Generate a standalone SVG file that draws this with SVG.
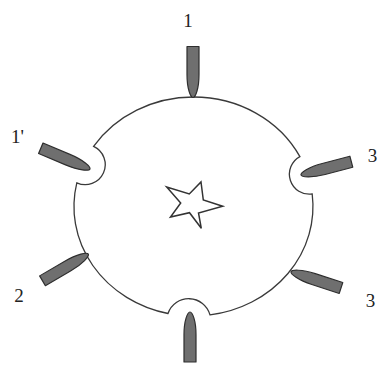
<svg xmlns="http://www.w3.org/2000/svg" width="379" height="376" viewBox="0 0 379 376">
<style>
.disk{fill:#fff;stroke:#3a3a3a;stroke-width:1.3}
.tool{fill:#6f6f6f;stroke:#2e2e2e;stroke-width:1.2;stroke-linejoin:round}
.star{fill:#fff;stroke:#333;stroke-width:1.5;stroke-linejoin:miter}
.lbl{font-family:"Liberation Serif","Times New Roman",serif;font-size:19px;fill:#222}
</style>
<defs>
<path id="bullet" d="M0,-6 H28 C42,-6 51,-2.5 51,0 C51,2.5 42,6 28,6 H0 Z"/>
</defs>
<rect width="379" height="376" fill="#fff"/>
<g id="disk">
<path class="disk" d="M193.5,97 A119.5,109.5 0 0 1 299.9,156.6 A20,20 0 0 0 312.2,194 A119.5,109.5 0 0 1 210,314.9 A22,22 0 0 0 168,313.5 A119.5,109.5 0 0 1 76.8,182.8 A20,20 0 0 0 93.6,146.4 A119.5,109.5 0 0 1 193.5,97 Z"/>
</g>
<g id="star">
<polygon class="star" points="201,182 203.3,200 222.7,206.3 198.5,213 201.3,228.3 189.5,212.7 170.5,217 180.7,203 166.7,187 189.3,194"/>
</g>
<g id="tool-1">
<use href="#bullet" class="tool" transform="translate(193,46.5) rotate(90) scale(1,1)"/>
<text class="lbl" x="188" y="27" text-anchor="middle">1</text>
</g>
<g id="tool-1p">
<use href="#bullet" class="tool" transform="translate(40.8,148.3) rotate(22.8) scale(1.045,0.95)"/>
<text class="lbl" x="11" y="143">1'</text>
</g>
<g id="tool-3a">
<use href="#bullet" class="tool" transform="translate(351.3,161.7) rotate(165.3) scale(1.02,0.95)"/>
<text class="lbl" x="372.5" y="162" text-anchor="middle">3</text>
</g>
<g id="tool-2">
<use href="#bullet" class="tool" transform="translate(42.5,280.8) rotate(-30.3) scale(1.04,0.95)"/>
<text class="lbl" x="19" y="302" text-anchor="middle">2</text>
</g>
<g id="tool-3b">
<use href="#bullet" class="tool" transform="translate(341,288) rotate(198) scale(1.03,0.95)"/>
<text class="lbl" x="370.5" y="307" text-anchor="middle">3</text>
</g>
<g id="tool-bottom">
<use href="#bullet" class="tool" transform="translate(190,362) rotate(-90) scale(0.98,1)"/>
</g>
<g id="connectors"/>
</svg>
